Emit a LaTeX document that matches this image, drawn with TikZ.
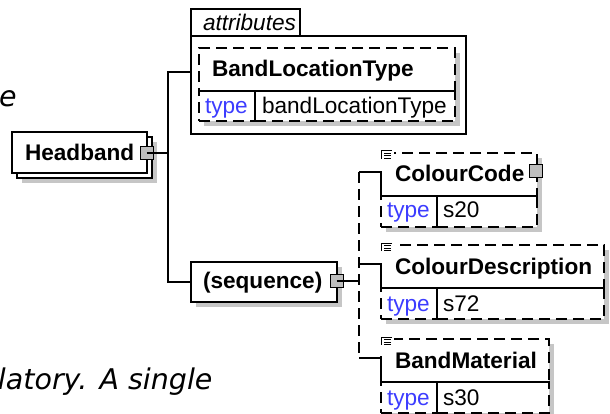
\documentclass[tikz,border=0pt]{standalone}
\usepackage{fontspec}
\setmainfont{Liberation Sans}
\newfontfamily\notefont{DejaVu Sans}
\usepackage{tikz}
\usetikzlibrary{positioning}
\usepackage{xcolor}
\definecolor{XsdBlue}{HTML}{3C3CFF}
\definecolor{XsdShade}{HTML}{C6C6C6}
\definecolor{XsdToggle}{HTML}{BEBEBE}

\begin{document}
\begin{tikzpicture}[x=1pt,y=-1pt,line width=1.2pt,
    every node/.style={inner sep=0pt,outer sep=0pt},
    lbl/.style={anchor=base west,font=\fontsize{22.6}{27}\selectfont},
    elname/.style={anchor=base west,font=\fontsize{22.6}{27}\selectfont\bfseries},
    typelbl/.style={lbl,text=XsdBlue},
    notetext/.style={anchor=base west,font=\fontsize{28.5}{34}\selectfont\notefont\itshape},
    elbox/.style={draw,fill=white,anchor=north west},
    optbox/.style={elbox,dash pattern=on 11pt off 6pt},
    toggle/.style={draw,fill=XsdToggle,minimum size=13pt,line width=1pt},
    optwire/.style={dash pattern=on 11pt off 6pt}]
    \useasboundingbox (0,0) rectangle (610,414);
    % text cut off at the left
    \node[notetext] (noteTop) at (-1,107) {e};
    \node[notetext] (noteBottom) at (-2,389) {latory. A single};
    % shadows
    \foreach \xa/\ya/\xb/\yb in {22/142/157/183,204/53/460/126,196/267/342/307,386/158/542/232,386/250/609/324,386/344/554/418}{\fill[XsdShade] (\xa,\ya) rectangle (\xb,\yb);}
    % Headband
    \node[elbox,minimum width=135,minimum height=41] (hbBack) at (17,137) {};
    \node[elbox,minimum width=135,minimum height=41] (hb) at (12,132) {};
    % attributes
    \node[draw,anchor=north west,minimum width=275,minimum height=98] (attr) at (191,36) {};
    \draw (attr.north west) -- ++(0,-27) -| (300,36);
    \node[optbox,minimum width=256,minimum height=43] (bltHead) at (199,48) {};
    \node[optbox,minimum width=56,minimum height=30] (bltKey) at (199,91) {};
    \node[optbox,minimum width=200,minimum height=30] (bltVal) at (255,91) {};
    % sequence
    \node[elbox,minimum width=146,minimum height=40] (seq) at (191,262) {};
    % elements
    \node[optbox,minimum width=156,minimum height=43] (ccHead) at (381,153) {};
    \node[optbox,minimum width=56,minimum height=31] (ccKey) at (381,196) {};
    \node[optbox,minimum width=100,minimum height=31] (ccVal) at (437,196) {};
    \node[optbox,minimum width=223,minimum height=43] (cdHead) at (381,245) {};
    \node[optbox,minimum width=56,minimum height=31] (cdKey) at (381,288) {};
    \node[optbox,minimum width=167,minimum height=31] (cdVal) at (437,288) {};
    \node[optbox,minimum width=168,minimum height=43] (bmHead) at (381,339) {};
    \node[optbox,minimum width=56,minimum height=31] (bmKey) at (381,382) {};
    \node[optbox,minimum width=112,minimum height=31] (bmVal) at (437,382) {};
    % solid rules inside the boxes
    \foreach \el in {blt,cc,cd,bm}{
      \draw (\el Head.south west) -- (\el Head.south east);
      \draw (\el Val.north west) -- (\el Val.south west);
    }
    % connectors
    \coordinate (attrPort) at (191,72);
    \coordinate (mainTrunk) at (168,153);
    \coordinate (seqTrunk) at (359,281);
    \draw (attrPort) -| (mainTrunk) |- (seq.west);
    \foreach \el in {cc,cd,bm}{
      \coordinate (\el Port) at ([shift={(0,19)}]\el Head.north west);
      \draw (seqTrunk |- \el Port) -- (\el Port) -- (\el Head.south west);
    }
    \draw[optwire] (seqTrunk |- ccPort) -- (seqTrunk |- bmPort);
    % element icons
    \foreach \el in {cc,cd,bm}{
      \fill[white] ([shift={(-3,-4)}]\el Head.north west) rectangle ([shift={(13,17)}]\el Head.north west);
      \draw[line width=1pt] ([shift={(11,-2)}]\el Head.north west) -- ([shift={(0,-2)}]\el Head.north west) -- ([shift={(0,6)}]\el Head.north west);
      \foreach \dy in {0.5,3,5.5}{\draw[line width=1pt] ([shift={(3,\dy)}]\el Head.north west) -- ([shift={(10,\dy)}]\el Head.north west);}
    }
    % toggles
    \node[toggle] (hbToggle) at (146.5,153) {};
    \node[toggle] (seqToggle) at (336.5,281) {};
    \node[toggle] (ccToggle) at (536,171) {};
    \draw (hbToggle.center) -- (mainTrunk);
    \draw (seqToggle.center) -- (seqTrunk);
    % labels
    \node[elname] (hbName) at (25,161) {Headband};
    \node[lbl,font=\fontsize{22.6}{27}\selectfont\itshape] (attrName) at (203,31) {attributes};
    \node[elname] (bltName) at (212,77) {BandLocationType};
    \node[typelbl] (bltType) at (205,114) {type};
    \node[lbl] (bltValue) at (262,114) {bandLocationType};
    \node[elname] (seqName) at (203,288) {(sequence)};
    \node[elname] (ccName) at (395,182) {ColourCode};
    \node[typelbl] (ccType) at (387,218) {type};
    \node[lbl] (ccValue) at (443,218) {s20};
    \node[elname] (cdName) at (395,274) {ColourDescription};
    \node[typelbl] (cdType) at (387,311) {type};
    \node[lbl] (cdValue) at (443,311) {s72};
    \node[elname] (bmName) at (395,368) {BandMaterial};
    \node[typelbl] (bmType) at (387,405) {type};
    \node[lbl] (bmValue) at (443,405) {s30};
  \end{tikzpicture}
\end{document}
